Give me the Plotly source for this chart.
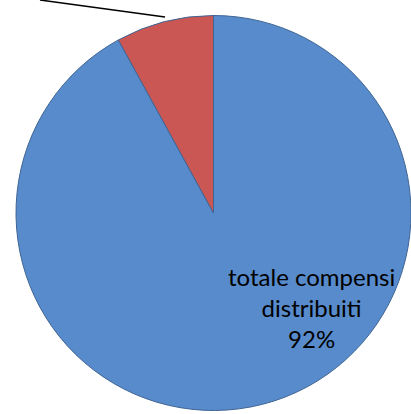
import plotly.graph_objects as go

labels = ["totale compensi distribuiti", "altro"]
values = [92, 8]
colors = ["#588BCB", "#CB5754"]

W, H = 411, 414

fig = go.Figure()
fig.add_trace(go.Pie(
    labels=labels,
    values=values,
    sort=False,
    direction="clockwise",
    rotation=0,
    marker=dict(colors=colors, line=dict(color="#3F6594", width=1)),
    textinfo="none",
    hoverinfo="label+percent",
    showlegend=False,
    domain=dict(x=[16 / W, 1.0], y=[0.0, 1 - 12 / H]),
))

pct = round(100 * values[0] / sum(values))
fig.add_annotation(
    x=311 / W, y=1 - 307 / H, xref="paper", yref="paper",
    xanchor="center", yanchor="middle",
    text="totale compensi<br>distribuiti<br>%d%%" % pct,
    showarrow=False, align="center",
    font=dict(family="Lato, 'Open Sans', sans-serif", size=24, color="#000000"),
)

# leader line toward the (cropped) outer label of the small slice
fig.add_shape(type="line", xref="paper", yref="paper",
              x0=40 / W, y0=1.0, x1=165 / W, y1=1 - 17 / H,
              line=dict(color="#000000", width=1.5))

fig.update_layout(
    width=W, height=H,
    margin=dict(l=0, r=0, t=0, b=0),
    paper_bgcolor="white", plot_bgcolor="white",
)

fig.write_html("out.html",
               config={"displayModeBar": False},
               post_script="document.body.style.margin='0';document.body.style.overflow='hidden';")
